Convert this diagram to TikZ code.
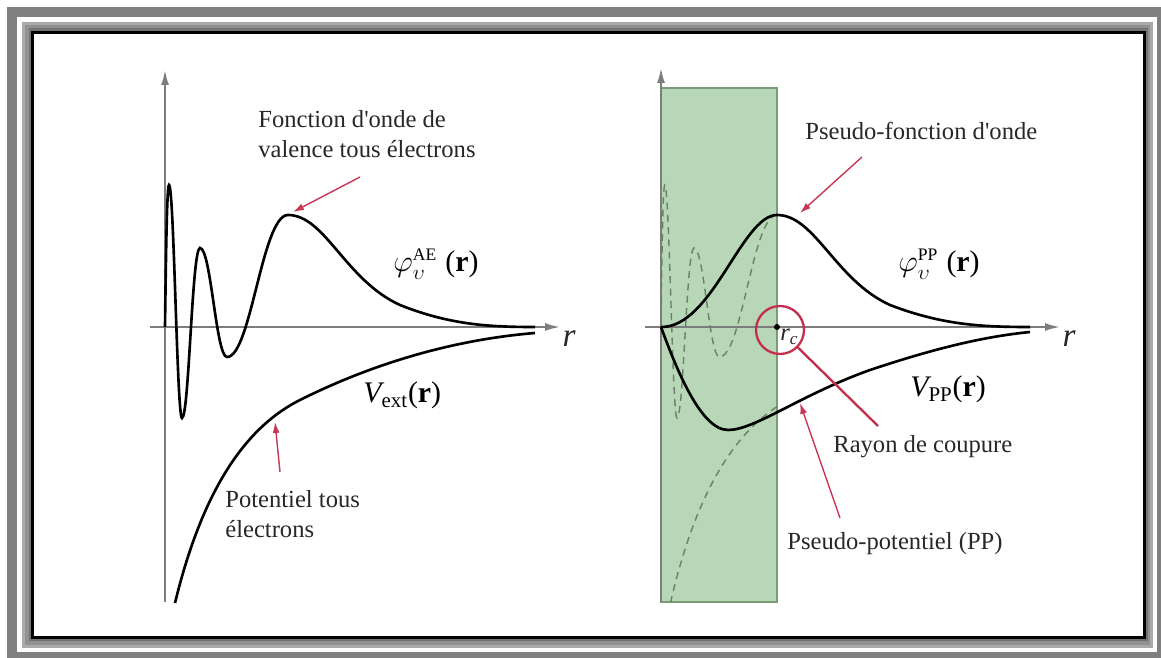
\documentclass[tikz,border=0pt]{standalone}
\usepackage{fontspec}
\usepackage{amsmath}
\setmainfont{Liberation Serif}
\usetikzlibrary{arrows.meta}
\definecolor{txt}{RGB}{40,40,40}
\definecolor{axisc}{RGB}{125,125,125}
\definecolor{redc}{RGB}{200,55,85}
\definecolor{circc}{RGB}{195,45,75}
\definecolor{greenf}{RGB}{183,215,183}
\definecolor{greene}{RGB}{120,155,120}
\definecolor{dashc}{RGB}{105,128,105}
\definecolor{frameA}{RGB}{128,128,128}
\definecolor{frameB}{RGB}{170,170,170}
\definecolor{frameC}{RGB}{145,145,145}
\definecolor{frameD}{RGB}{115,115,115}
\newcommand{\apo}{\textquotesingle}
\begin{document}
\begin{tikzpicture}[x=0.02cm,y=-0.02cm,
  lbl/.style={font=\fontsize{14}{17}\selectfont, text=txt, inner sep=0pt},
  mlbl/.style={font=\fontsize{17}{20}\selectfont, text=black, inner sep=0pt, anchor=base west},
  axis/.style={draw=axisc, line width=1.1pt, -{Latex[length=0.3cm,width=0.16cm]}},
  curve/.style={line width=1.5pt, draw=black},
  dcurve/.style={line width=0.8pt, draw=dashc, dash pattern=on 4pt off 3pt},
  redarrow/.style={draw=redc, line width=0.8pt, -{Latex[length=0.22cm,width=0.14cm]}}]
\useasboundingbox (0,0) rectangle (1161,658);
% frame
\fill[white] (0,0) rectangle (1161,658);
\fill[frameA] (7,7) rectangle (1161,658);
\fill[white] (17.3,17.3) rectangle (1156.7,651.7);
\fill[frameB] (21.7,21.7) rectangle (1152.7,648.3);
\fill[frameC] (25,25) rectangle (1150,645);
\fill[frameD] (28.5,28.5) rectangle (1147.5,641.5);
\fill[white] (32.5,32.5) rectangle (1144.5,637.5);
\draw[black, line width=1.2pt] (32.5,32.5) rectangle (1144.5,637.5);

% ---------------- left plot ----------------
\coordinate (Lbot) at (165,602);
\coordinate (Ltop) at (165,70);
\coordinate (Lxs) at (150,327);
\coordinate (Lxe) at (560,327);
\draw[axis] (Lbot) -- (Ltop);
\draw[axis] (Lxs) -- (Lxe);
\node[font=\fontsize{19}{20}\selectfont\itshape, text=txt, inner sep=0pt] (rL) at (569,339) {r};

\draw[curve] (165,327) .. controls (166,250) and (167,185) .. (169,185)
  .. controls (174,185) and (177,418) .. (182,418)
  .. controls (189,418) and (192,248) .. (200,248)
  .. controls (211,248) and (216,357) .. (227,357)
  .. controls (251,357) and (262,215) .. (288,215)
  .. controls (325,215) and (345,280) .. (400,305)
  .. controls (450,325) and (490,327) .. (535,327);
\draw[curve] (175,603) .. controls (200,500) and (240,430) .. (300,400)
  .. controls (370,365) and (450,340) .. (535,333);

\node[lbl, anchor=north west, align=left] (fAE) at (258,110) {Fonction d\apo onde de\\valence tous électrons};
\coordinate (aAs) at (360,177);
\coordinate (aAe) at (293,212);
\draw[redarrow] (aAs) -- (aAe);

\node[mlbl] (phiAE) at (393,272) {$\varphi_{\upsilon}^{\text{\fontsize{10}{11}\selectfont AE}}$\;(\textbf{r})};
\node[mlbl] (vext) at (363,403) {$\text{\itshape V}_{\text{ext}}$(\textbf{r})};

\node[lbl, anchor=north west, align=left] (pot) at (225,490) {Potentiel tous\\électrons};
\coordinate (aBs) at (280,472);
\coordinate (aBe) at (275,422);
\draw[redarrow] (aBs) -- (aBe);

% ---------------- right plot ----------------
\fill[greenf] (661,88) rectangle (777,602);
\draw[greene, line width=0.6pt] (661,88) rectangle (777,602);
\coordinate (Rbot) at (661,602);
\coordinate (Rtop) at (661,68);
\coordinate (Rxs) at (645,327);
\coordinate (Rxe) at (1060,327);
\draw[axis] (Rbot) -- (Rtop);
\draw[axis] (Rxs) -- (Rxe);
\node[font=\fontsize{19}{20}\selectfont\itshape, text=txt, inner sep=0pt] (rR) at (1069,339) {r};

\begin{scope}
  \clip (661,80) rectangle (777,602);
  \begin{scope}[shift={(661,0)}, xscale=0.943, shift={(-165,0)}]
    \draw[dcurve] (165,327) .. controls (166,250) and (167,185) .. (169,185)
      .. controls (174,185) and (177,418) .. (182,418)
      .. controls (189,418) and (192,248) .. (200,248)
      .. controls (211,248) and (216,357) .. (227,357)
      .. controls (251,357) and (262,215) .. (288,215)
      .. controls (325,215) and (345,280) .. (400,305);
    \draw[dcurve] (175,603) .. controls (200,500) and (240,430) .. (300,400)
      .. controls (370,365) and (450,340) .. (535,333);
  \end{scope}
\end{scope}

\draw[curve] (661,327) .. controls (712,328) and (742,215) .. (777,215)
  .. controls (815,215) and (835,280) .. (890,305)
  .. controls (942,325) and (982,327) .. (1030,327);
\draw[curve] (661,327) .. controls (675,365) and (700,430) .. (728,430)
  .. controls (755,430) and (800,395) .. (870,370)
  .. controls (930,350) and (980,337) .. (1030,332);

\node[circle, fill=black, inner sep=1.2pt] (rcdot) at (777,327) {};
\node[font=\fontsize{14}{16}\selectfont, text=txt, inner sep=0pt, anchor=base west] (rc) at (780,341) {$\text{\itshape r}_{\text{\itshape c}}$};
\node[circle, draw=circc, line width=1.3pt, minimum size=0.96cm, inner sep=0pt] (rcirc) at (780,330) {};
\coordinate (rcl) at (878,426);
\draw[circc, line width=1.3pt] (rcirc) -- (rcl);

\node[lbl, anchor=base west] (pfo) at (805,140) {Pseudo-fonction d\apo onde};
\coordinate (aCs) at (862,157);
\coordinate (aCe) at (800,213);
\draw[redarrow] (aCs) -- (aCe);

\node[mlbl] (phiPP) at (898,272) {$\varphi_{\upsilon}^{\text{\fontsize{10}{11}\selectfont PP}}$\;(\textbf{r})};
\node[mlbl] (vpp) at (910,397) {$\text{\itshape V}_{\text{PP}}$(\textbf{r})};

\node[lbl, anchor=base west] (ray) at (833,453) {Rayon de coupure};
\node[lbl, anchor=base west] (ppot) at (787,550) {Pseudo-potentiel (PP)};
\coordinate (aDs) at (840,518);
\coordinate (aDe) at (800,403);
\draw[redarrow] (aDs) -- (aDe);
\end{tikzpicture}
\end{document}
